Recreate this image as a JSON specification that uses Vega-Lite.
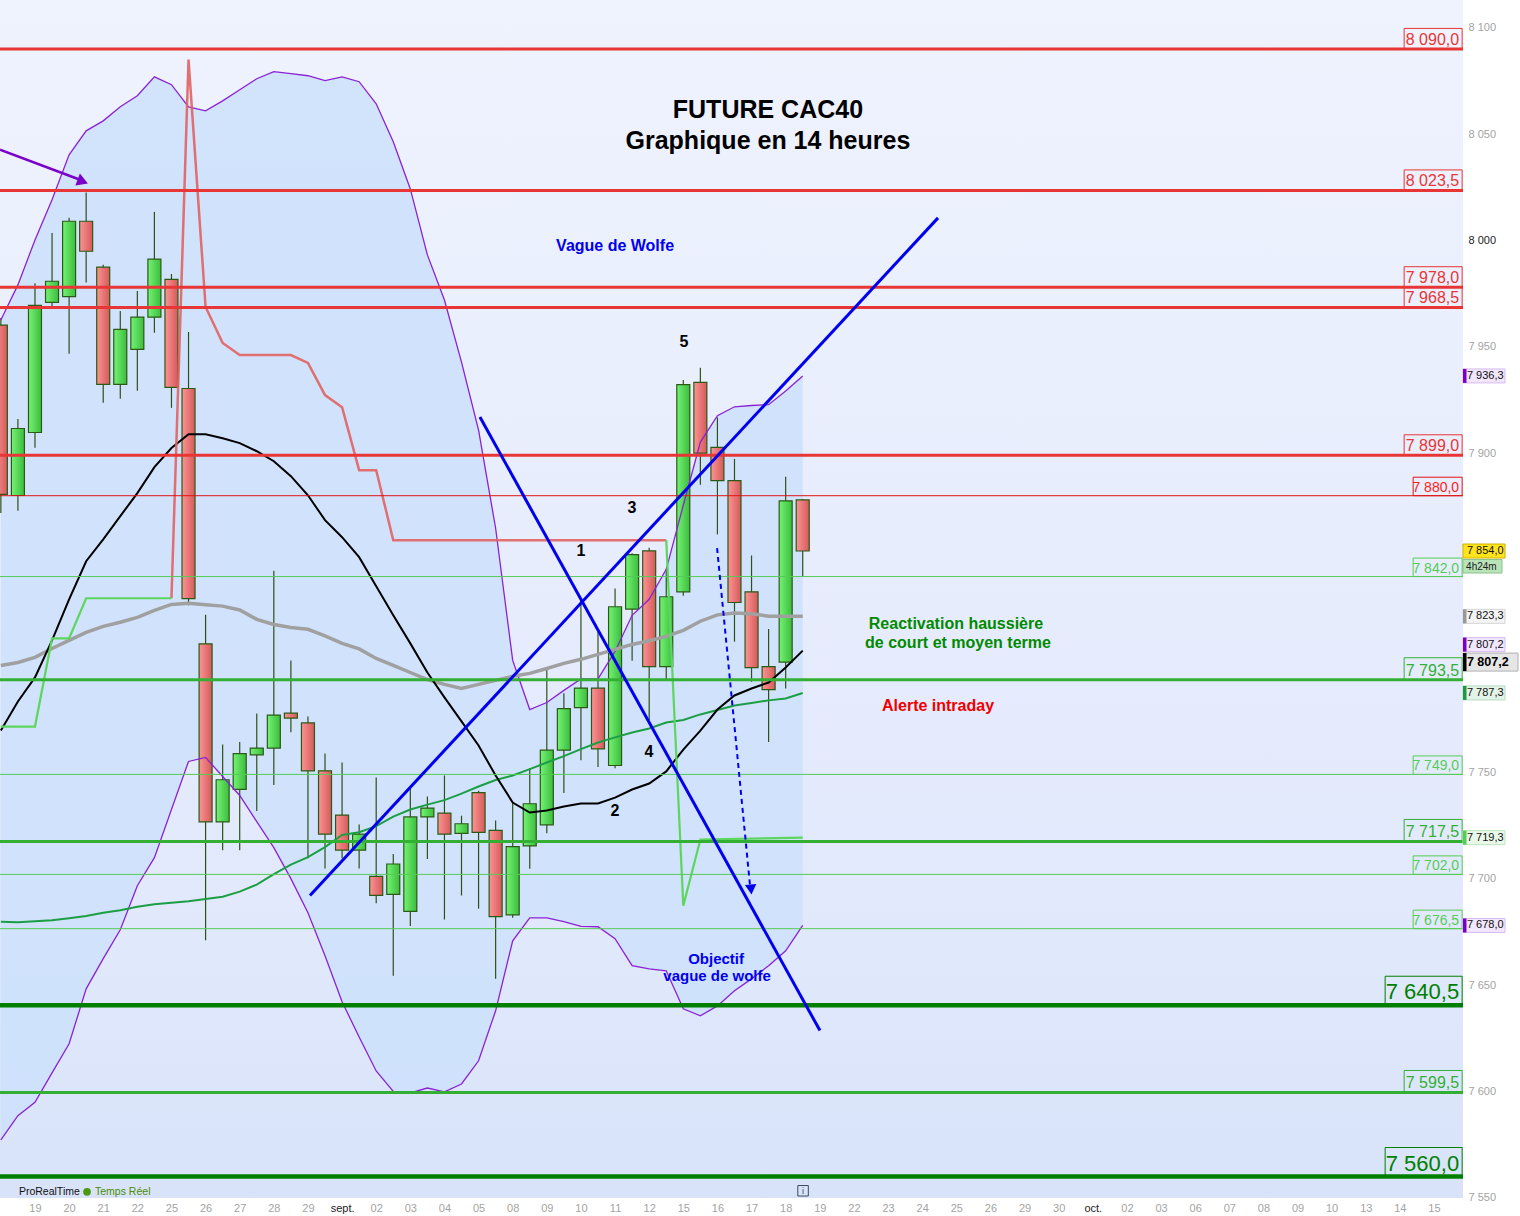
{
"$schema": "https://vega.github.io/schema/vega-lite/v6.json",
"width": 1463, "height": 1198,
"autosize": {"type": "none"},
"padding": {"left": 0, "top": 0, "right": 57, "bottom": 18},
"background": "#ffffff",
"resolve": {"axis": {"x": "independent", "y": "independent"}},
"config": {"view": {"stroke": null, "fill": {"gradient": "linear", "x1": 0, "y1": 0, "x2": 0, "y2": 1, "stops": [{"offset": 0, "color": "#eff3fe"}, {"offset": 0.75, "color": "#e2e9fc"}, {"offset": 1, "color": "#d8e3f9"}]}}, "font": "Liberation Sans", "text": {"font": "Liberation Sans"}, "scale": {"continuousPadding": 0}},
"datasets": {
"candles": [
{"i":-2,"o":7960.2,"h":7963.5,"l":7871.9,"c":7880.6},
{"i":-1,"o":7880.1,"h":7916.0,"l":7872.9,"c":7911.6},
{"i":0,"o":7909.7,"h":7979.9,"l":7902.5,"c":7969.5},
{"i":1,"o":7970.9,"h":8003.5,"l":7968.4,"c":7980.8},
{"i":2,"o":7973.6,"h":8010.6,"l":7946.7,"c":8009.0},
{"i":3,"o":8009.0,"h":8022.5,"l":7980.2,"c":7994.9},
{"i":4,"o":7987.4,"h":7988.5,"l":7923.7,"c":7932.3},
{"i":5,"o":7932.3,"h":7966.8,"l":7925.6,"c":7958.2},
{"i":6,"o":7948.8,"h":7976.2,"l":7929.3,"c":7963.9},
{"i":7,"o":7963.9,"h":8013.4,"l":7956.6,"c":7991.2},
{"i":8,"o":7981.7,"h":7984.2,"l":7921.3,"c":7930.9},
{"i":9,"o":7930.4,"h":7956.9,"l":7828.5,"c":7831.6},
{"i":10,"o":7810.4,"h":7824.1,"l":7671.1,"c":7726.7},
{"i":11,"o":7726.7,"h":7763.1,"l":7713.4,"c":7746.5},
{"i":12,"o":7742.0,"h":7764.2,"l":7713.4,"c":7758.8},
{"i":13,"o":7758.2,"h":7777.6,"l":7731.8,"c":7761.4},
{"i":14,"o":7761.4,"h":7844.7,"l":7744.0,"c":7776.9},
{"i":15,"o":7777.8,"h":7802.6,"l":7768.8,"c":7775.5},
{"i":16,"o":7773.2,"h":7776.2,"l":7709.6,"c":7750.7},
{"i":17,"o":7750.7,"h":7758.8,"l":7704.8,"c":7720.9},
{"i":18,"o":7729.9,"h":7754.6,"l":7709.6,"c":7713.4},
{"i":19,"o":7713.4,"h":7725.5,"l":7704.8,"c":7720.9},
{"i":20,"o":7701.1,"h":7747.6,"l":7688.5,"c":7692.1},
{"i":21,"o":7692.6,"h":7711.6,"l":7654.4,"c":7706.9},
{"i":22,"o":7684.6,"h":7743.4,"l":7677.7,"c":7729.0},
{"i":23,"o":7729.0,"h":7738.6,"l":7709.2,"c":7733.2},
{"i":24,"o":7730.8,"h":7748.5,"l":7680.8,"c":7720.9},
{"i":25,"o":7721.3,"h":7729.6,"l":7692.1,"c":7725.8},
{"i":26,"o":7740.4,"h":7741.3,"l":7685.9,"c":7721.8},
{"i":27,"o":7722.7,"h":7727.3,"l":7652.9,"c":7682.2},
{"i":28,"o":7683.0,"h":7735.8,"l":7681.6,"c":7715.1},
{"i":29,"o":7715.4,"h":7751.9,"l":7704.6,"c":7735.2},
{"i":30,"o":7725.3,"h":7798.3,"l":7721.4,"c":7760.4},
{"i":31,"o":7760.4,"h":7787.1,"l":7740.3,"c":7779.9},
{"i":32,"o":7780.4,"h":7830.7,"l":7755.6,"c":7789.6},
{"i":33,"o":7789.6,"h":7815.9,"l":7752.5,"c":7761.0},
{"i":34,"o":7753.2,"h":7836.4,"l":7751.9,"c":7827.8},
{"i":35,"o":7826.7,"h":7853.0,"l":7802.4,"c":7852.3},
{"i":36,"o":7854.1,"h":7855.5,"l":7774.5,"c":7799.7},
{"i":37,"o":7799.7,"h":7845.6,"l":7793.9,"c":7832.5},
{"i":38,"o":7834.8,"h":7934.4,"l":7833.0,"c":7932.2},
{"i":39,"o":7933.3,"h":7940.1,"l":7885.2,"c":7900.0},
{"i":40,"o":7902.7,"h":7916.8,"l":7861.8,"c":7887.1},
{"i":41,"o":7887.1,"h":7897.3,"l":7811.4,"c":7829.8},
{"i":42,"o":7834.8,"h":7851.9,"l":7792.5,"c":7799.2},
{"i":43,"o":7799.7,"h":7817.3,"l":7764.2,"c":7788.9},
{"i":44,"o":7801.8,"h":7888.9,"l":7789.4,"c":7877.6},
{"i":45,"o":7878.0,"h":7878.5,"l":7842.0,"c":7854.0}
],
"ind": [
{"i":-2,"ma20":7769.6,"ma50":7800.2,"ma100":7679.8,"up":7962.6,"lo":7577.2},
{"i":-1,"ma20":7783.3,"ma50":7801.6,"ma100":7679.5,"up":7979.1,"lo":7588.6},
{"i":0,"ma20":7794.6,"ma50":7804.0,"ma100":7680.0,"up":8000.2,"lo":7594.9},
{"i":1,"ma20":7812.0,"ma50":7808.2,"ma100":7680.5,"up":8019.1,"lo":7608.7},
{"i":2,"ma20":7831.3,"ma50":7812.0,"ma100":7681.4,"up":8040.2,"lo":7622.4},
{"i":3,"ma20":7849.2,"ma50":7815.8,"ma100":7682.4,"up":8051.5,"lo":7648.2},
{"i":4,"ma20":7859.5,"ma50":7818.6,"ma100":7684.0,"up":8056.2,"lo":7662.4},
{"i":5,"ma20":7870.4,"ma50":7820.5,"ma100":7685.2,"up":8062.8,"lo":7676.0},
{"i":6,"ma20":7881.2,"ma50":7822.8,"ma100":7686.8,"up":8068.0,"lo":7696.7},
{"i":7,"ma20":7893.4,"ma50":7826.1,"ma100":7688.0,"up":8076.9,"lo":7709.9},
{"i":8,"ma20":7902.4,"ma50":7828.9,"ma100":7688.7,"up":8073.2,"lo":7732.5},
{"i":9,"ma20":7908.9,"ma50":7829.4,"ma100":7689.4,"up":8062.8,"lo":7755.1},
{"i":10,"ma20":7908.9,"ma50":7828.7,"ma100":7690.4,"up":8060.9,"lo":7757.0},
{"i":11,"ma20":7907.0,"ma50":7828.1,"ma100":7691.5,"up":8065.6,"lo":7748.0},
{"i":12,"ma20":7904.7,"ma50":7826.3,"ma100":7693.9,"up":8070.8,"lo":7739.1},
{"i":13,"ma20":7900.9,"ma50":7821.9,"ma100":7697.2,"up":8076.0,"lo":7726.8},
{"i":14,"ma20":7896.2,"ma50":7819.5,"ma100":7702.1,"up":8079.3,"lo":7714.6},
{"i":15,"ma20":7889.2,"ma50":7818.1,"ma100":7706.6,"up":8078.4,"lo":7700.0},
{"i":16,"ma20":7880.2,"ma50":7817.2,"ma100":7710.1,"up":8077.4,"lo":7684.0},
{"i":17,"ma20":7868.5,"ma50":7814.1,"ma100":7714.8,"up":8075.1,"lo":7663.8},
{"i":18,"ma20":7860.5,"ma50":7810.6,"ma100":7720.5,"up":8076.9,"lo":7642.1},
{"i":19,"ma20":7851.1,"ma50":7808.0,"ma100":7721.8,"up":8074.6,"lo":7625.6},
{"i":20,"ma20":7837.4,"ma50":7803.5,"ma100":7724.7,"up":8064.2,"lo":7609.6},
{"i":21,"ma20":7823.8,"ma50":7800.2,"ma100":7729.2,"up":8046.4,"lo":7600.0},
{"i":22,"ma20":7810.6,"ma50":7796.9,"ma100":7732.5,"up":8024.2,"lo":7599.3},
{"i":23,"ma20":7796.9,"ma50":7793.6,"ma100":7734.8,"up":7993.2,"lo":7601.6},
{"i":24,"ma20":7785.2,"ma50":7791.3,"ma100":7736.9,"up":7972.0,"lo":7599.8},
{"i":25,"ma20":7773.9,"ma50":7789.4,"ma100":7740.0,"up":7942.8,"lo":7603.5},
{"i":26,"ma20":7762.6,"ma50":7791.3,"ma100":7743.3,"up":7910.8,"lo":7614.4},
{"i":27,"ma20":7748.5,"ma50":7793.2,"ma100":7746.4,"up":7864.7,"lo":7637.9},
{"i":28,"ma20":7735.8,"ma50":7795.1,"ma100":7748.5,"up":7802.6,"lo":7670.8},
{"i":29,"ma20":7731.1,"ma50":7796.5,"ma100":7751.5,"up":7779.5,"lo":7681.6},
{"i":30,"ma20":7732.0,"ma50":7798.8,"ma100":7754.6,"up":7782.8,"lo":7681.6},
{"i":31,"ma20":7733.9,"ma50":7801.2,"ma100":7757.6,"up":7788.5,"lo":7679.8},
{"i":32,"ma20":7735.3,"ma50":7803.1,"ma100":7760.9,"up":7793.9,"lo":7677.6},
{"i":33,"ma20":7735.3,"ma50":7805.4,"ma100":7764.0,"up":7793.9,"lo":7677.4},
{"i":34,"ma20":7738.1,"ma50":7807.8,"ma100":7766.4,"up":7806.8,"lo":7671.8},
{"i":35,"ma20":7741.9,"ma50":7810.1,"ma100":7768.7,"up":7823.8,"lo":7659.1},
{"i":36,"ma20":7744.7,"ma50":7811.8,"ma100":7770.6,"up":7831.3,"lo":7657.6},
{"i":37,"ma20":7750.4,"ma50":7813.9,"ma100":7773.4,"up":7845.4,"lo":7656.7},
{"i":38,"ma20":7760.7,"ma50":7816.7,"ma100":7774.6,"up":7875.5,"lo":7638.8},
{"i":39,"ma20":7769.6,"ma50":7821.0,"ma100":7777.2,"up":7905.2,"lo":7635.5},
{"i":40,"ma20":7779.5,"ma50":7824.0,"ma100":7779.3,"up":7917.6,"lo":7640.2},
{"i":41,"ma20":7786.1,"ma50":7824.9,"ma100":7781.4,"up":7921.8,"lo":7647.3},
{"i":42,"ma20":7789.4,"ma50":7824.5,"ma100":7782.6,"up":7922.4,"lo":7652.9},
{"i":43,"ma20":7792.2,"ma50":7823.4,"ma100":7783.8,"up":7922.8,"lo":7659.1},
{"i":44,"ma20":7799.3,"ma50":7823.4,"ma100":7784.7,"up":7929.2,"lo":7666.1},
{"i":45,"ma20":7807.2,"ma50":7823.3,"ma100":7787.3,"up":7936.3,"lo":7678.0}
],
"stop": [
{"s":"g1","i":-2,"v":7771.5},{"s":"g1","i":0,"v":7771.5},{"s":"g1","i":1,"v":7812.9},{"s":"g1","i":2,"v":7812.9},{"s":"g1","i":3,"v":7831.8},{"s":"g1","i":8,"v":7831.8},
{"s":"r","i":8,"v":7831.8},{"s":"r","i":9,"v":8085.0},{"s":"r","i":10,"v":7968.7},{"s":"r","i":11,"v":7951.8},{"s":"r","i":12,"v":7946.1},{"s":"r","i":15,"v":7946.1},{"s":"r","i":16,"v":7942.4},{"s":"r","i":17,"v":7927.3},{"s":"r","i":18,"v":7921.6},{"s":"r","i":19,"v":7892.0},{"s":"r","i":20,"v":7892.0},{"s":"r","i":21,"v":7859.1},{"s":"r","i":37,"v":7859.1},
{"s":"g2","i":37,"v":7859.1},{"s":"g2","i":38,"v":7687.3},{"s":"g2","i":39,"v":7718.4},{"s":"g2","i":45,"v":7719.3}
],
"levels": [
{"k":"R","p":8090.0,"t":"8 090,0"},{"k":"R","p":8023.5,"t":"8 023,5"},{"k":"R","p":7978.0,"t":"7 978,0"},{"k":"R","p":7968.5,"t":"7 968,5"},{"k":"R","p":7899.0,"t":"7 899,0"},
{"k":"r","p":7880.0,"t":"7 880,0"},
{"k":"g","p":7842.0,"t":"7 842,0"},{"k":"g","p":7749.0,"t":"7 749,0"},{"k":"g","p":7702.0,"t":"7 702,0"},{"k":"g","p":7676.5,"t":"7 676,5"},
{"k":"G","p":7793.5,"t":"7 793,5"},{"k":"G","p":7717.5,"t":"7 717,5"},{"k":"G","p":7599.5,"t":"7 599,5"},
{"k":"D","p":7640.5,"t":"7 640,5"},{"k":"D","p":7560.0,"t":"7 560,0"}
],
"wolfe": [
{"w":"A","i":16.12,"v":7692.1},{"w":"A","i":52.93,"v":8010.6},
{"w":"B","i":26.08,"v":7917.0},{"w":"B","i":46.01,"v":7628.6}
],
"arrows": [
{"a":"target","i":39.98,"v":7855.4},{"a":"target","i":41.91,"v":7696.8},
{"a":"top","i":-2.05,"v":8042.6},{"a":"top","i":2.64,"v":8028.5}
],
"heads": [
{"a":"target","i":41.97,"v":7694.9},
{"a":"top","i":2.7,"v":8028.0}
],
"notes": [
{"k":"title","i":42.96,"v":8061.4,"t":"FUTURE CAC40"},
{"k":"title","i":42.96,"v":8046.9,"t":"Graphique en 14 heures"},
{"k":"blue","i":34.0,"v":7997.5,"t":"Vague de Wolfe"},
{"k":"num","i":38.04,"v":7952.3,"t":"5"},
{"k":"num","i":34.99,"v":7874.2,"t":"3"},
{"k":"num","i":32.0,"v":7853.9,"t":"1"},
{"k":"num","i":35.99,"v":7759.4,"t":"4"},
{"k":"num","i":34.0,"v":7731.6,"t":"2"},
{"k":"green","i":53.98,"v":7819.6,"t":"Reactivation haussière"},
{"k":"green","i":54.1,"v":7810.7,"t":"de court et moyen terme"},
{"k":"red","i":52.93,"v":7781.0,"t":"Alerte intraday"},
{"k":"blue2","i":39.92,"v":7662.4,"t":"Objectif"},
{"k":"blue2","i":39.98,"v":7654.4,"t":"vague de wolfe"}
],
"tags": [
{"k":"purple","v":7936.3,"t":"7 936,3"},
{"k":"yellow","v":7854.0,"t":"7 854,0"},
{"k":"gray","v":7823.3,"t":"7 823,3"},
{"k":"green","v":7787.3,"t":"7 787,3"},
{"k":"lgreen","v":7719.3,"t":"7 719,3"},
{"k":"purple","v":7678.0,"t":"7 678,0"},
{"k":"purple2","v":7807.2,"t":"7 807,2"},
{"k":"black","v":7807.2,"t":"7 807,2"},
{"k":"time","v":7854.0,"t":"4h24m"}
],
"footer": [
{"k":"brand","i":-0.94,"v":7552.8,"t":"ProRealTime"},
{"k":"rt","i":3.52,"v":7552.8,"t":"Temps Réel"},
{"k":"info","i":45.02,"v":7553.3,"t":"i"}
]
},
"layer": [
{"data": {"name": "ind"},
 "mark": {"type": "area", "color": "#cde1fb", "opacity": 0.85},
 "encoding": {
  "x": {"field": "i", "type": "quantitative", "scale": {"domain": [-2.05, 83.7], "nice": false, "zero": false, "padding": 0},
   "axis": {"values": [0,2,4,6,8,10,12,14,16,18,20,22,24,26,28,30,32,34,36,38,40,42,44,46,48,50,52,54,56,58,60,62,64,66,68,70,72,74,76,78,80,82],
    "labelExpr": "['19','20','21','22','25','26','27','28','29','sept.','02','03','04','05','08','09','10','11','12','15','16','17','18','19','22','23','24','25','26','29','30','oct.','02','03','06','07','08','09','10','13','14','15'][datum.value/2]",
    "title": null, "domain": false, "ticks": false, "grid": false, "labelFont": "Liberation Sans", "labelFontSize": 11,
    "labelColor": {"condition": {"test": "datum.value==18 || datum.value==62", "value": "#222222"}, "value": "#a3a3a3"},
    "labelPadding": 4, "labelFlush": false, "labelOverlap": false}},
  "y": {"field": "lo", "type": "quantitative", "scale": {"domain": [7549.9, 8113.0], "nice": false, "zero": false, "padding": 0},
   "axis": {"orient": "right", "values": [7550,7600,7650,7700,7750,7900,7950,8000,8050,8100],
    "labelExpr": "replace(format(datum.value, ',d'), ',', ' ')",
    "title": null, "domain": false, "ticks": false, "grid": false, "labelFont": "Liberation Sans", "labelFontSize": 11,
    "labelColor": {"condition": {"test": "datum.value==8000", "value": "#222222"}, "value": "#a3a3a3"},
    "labelPadding": 5, "labelFlush": false, "labelOverlap": false}},
  "y2": {"field": "up"}
 }},
{"data": {"name": "candles"},
 "mark": {"type": "rule", "color": "#2d5016", "strokeWidth": 1.2},
 "encoding": {
  "x": {"field": "i", "type": "quantitative", "scale": {"domain": [-2.05, 83.7], "nice": false, "zero": false, "padding": 0}, "axis": null},
  "y": {"field": "l", "type": "quantitative", "scale": {"domain": [7549.9, 8113.0], "nice": false, "zero": false, "padding": 0}, "axis": null},
  "y2": {"field": "h"}
 }},
{"data": {"name": "candles"},
 "transform": [{"filter": "datum.c >= datum.o"}],
 "mark": {"type": "bar", "width": 13, "stroke": "#2b5a14", "strokeWidth": 1.2,
  "fill": {"gradient": "linear", "x1": 0, "y1": 0, "x2": 1, "y2": 0, "stops": [{"offset": 0, "color": "#74f274"}, {"offset": 1, "color": "#3cbd3c"}]}},
 "encoding": {
  "x": {"field": "i", "type": "quantitative", "scale": {"domain": [-2.05, 83.7], "nice": false, "zero": false, "padding": 0}, "axis": null},
  "y": {"field": "o", "type": "quantitative", "scale": {"domain": [7549.9, 8113.0], "nice": false, "zero": false, "padding": 0}, "axis": null},
  "y2": {"field": "c"}
 }},
{"data": {"name": "candles"},
 "transform": [{"filter": "datum.c < datum.o"}],
 "mark": {"type": "bar", "width": 13, "stroke": "#2b5a14", "strokeWidth": 1.2,
  "fill": {"gradient": "linear", "x1": 0, "y1": 0, "x2": 1, "y2": 0, "stops": [{"offset": 0, "color": "#fb9494"}, {"offset": 1, "color": "#d65a5a"}]}},
 "encoding": {
  "x": {"field": "i", "type": "quantitative", "scale": {"domain": [-2.05, 83.7], "nice": false, "zero": false, "padding": 0}, "axis": null},
  "y": {"field": "o", "type": "quantitative", "scale": {"domain": [7549.9, 8113.0], "nice": false, "zero": false, "padding": 0}, "axis": null},
  "y2": {"field": "c"}
 }},
{"data": {"name": "ind"},
 "mark": {"type": "line", "color": "#8a22d4", "strokeWidth": 1.3},
 "encoding": {
  "x": {"field": "i", "type": "quantitative", "scale": {"domain": [-2.05, 83.7], "nice": false, "zero": false, "padding": 0}, "axis": null},
  "y": {"field": "up", "type": "quantitative", "scale": {"domain": [7549.9, 8113.0], "nice": false, "zero": false, "padding": 0}, "axis": null}
 }},
{"data": {"name": "ind"},
 "mark": {"type": "line", "color": "#8a22d4", "strokeWidth": 1.3},
 "encoding": {
  "x": {"field": "i", "type": "quantitative", "scale": {"domain": [-2.05, 83.7], "nice": false, "zero": false, "padding": 0}, "axis": null},
  "y": {"field": "lo", "type": "quantitative", "scale": {"domain": [7549.9, 8113.0], "nice": false, "zero": false, "padding": 0}, "axis": null}
 }},
{"data": {"name": "ind"},
 "mark": {"type": "line", "color": "#1c9e44", "strokeWidth": 2},
 "encoding": {
  "x": {"field": "i", "type": "quantitative", "scale": {"domain": [-2.05, 83.7], "nice": false, "zero": false, "padding": 0}, "axis": null},
  "y": {"field": "ma100", "type": "quantitative", "scale": {"domain": [7549.9, 8113.0], "nice": false, "zero": false, "padding": 0}, "axis": null}
 }},
{"data": {"name": "ind"},
 "mark": {"type": "line", "color": "#a0a0a0", "strokeWidth": 3.5},
 "encoding": {
  "x": {"field": "i", "type": "quantitative", "scale": {"domain": [-2.05, 83.7], "nice": false, "zero": false, "padding": 0}, "axis": null},
  "y": {"field": "ma50", "type": "quantitative", "scale": {"domain": [7549.9, 8113.0], "nice": false, "zero": false, "padding": 0}, "axis": null}
 }},
{"data": {"name": "ind"},
 "mark": {"type": "line", "color": "#000000", "strokeWidth": 2},
 "encoding": {
  "x": {"field": "i", "type": "quantitative", "scale": {"domain": [-2.05, 83.7], "nice": false, "zero": false, "padding": 0}, "axis": null},
  "y": {"field": "ma20", "type": "quantitative", "scale": {"domain": [7549.9, 8113.0], "nice": false, "zero": false, "padding": 0}, "axis": null}
 }},
{"data": {"name": "stop"},
 "transform": [{"filter": "datum.s == 'r'"}],
 "mark": {"type": "line", "color": "#e06262", "strokeWidth": 2.5, "opacity": 0.9},
 "encoding": {
  "x": {"field": "i", "type": "quantitative", "scale": {"domain": [-2.05, 83.7], "nice": false, "zero": false, "padding": 0}, "axis": null},
  "y": {"field": "v", "type": "quantitative", "scale": {"domain": [7549.9, 8113.0], "nice": false, "zero": false, "padding": 0}, "axis": null}
 }},
{"data": {"name": "stop"},
 "transform": [{"filter": "datum.s != 'r'"}],
 "mark": {"type": "line", "color": "#5cd65c", "strokeWidth": 2.2},
 "encoding": {
  "x": {"field": "i", "type": "quantitative", "scale": {"domain": [-2.05, 83.7], "nice": false, "zero": false, "padding": 0}, "axis": null},
  "y": {"field": "v", "type": "quantitative", "scale": {"domain": [7549.9, 8113.0], "nice": false, "zero": false, "padding": 0}, "axis": null},
  "detail": {"field": "s"}
 }},
{"data": {"name": "levels"}, "transform": [{"filter": "datum.k == 'g'"}],
 "mark": {"type": "rule", "color": "#55cc55", "strokeWidth": 1},
 "encoding": {"y": {"field": "p", "type": "quantitative", "scale": {"domain": [7549.9, 8113.0], "nice": false, "zero": false, "padding": 0}, "axis": null}}},
{"data": {"name": "levels"}, "transform": [{"filter": "datum.k == 'r'"}],
 "mark": {"type": "rule", "color": "#e01414", "strokeWidth": 1},
 "encoding": {"y": {"field": "p", "type": "quantitative", "scale": {"domain": [7549.9, 8113.0], "nice": false, "zero": false, "padding": 0}, "axis": null}}},
{"data": {"name": "levels"}, "transform": [{"filter": "datum.k == 'G'"}],
 "mark": {"type": "rule", "color": "#33b033", "strokeWidth": 3},
 "encoding": {"y": {"field": "p", "type": "quantitative", "scale": {"domain": [7549.9, 8113.0], "nice": false, "zero": false, "padding": 0}, "axis": null}}},
{"data": {"name": "levels"}, "transform": [{"filter": "datum.k == 'R'"}],
 "mark": {"type": "rule", "color": "#e83535", "strokeWidth": 3},
 "encoding": {"y": {"field": "p", "type": "quantitative", "scale": {"domain": [7549.9, 8113.0], "nice": false, "zero": false, "padding": 0}, "axis": null}}},
{"data": {"name": "levels"}, "transform": [{"filter": "datum.k == 'D'"}],
 "mark": {"type": "rule", "color": "#007f00", "strokeWidth": 4.5},
 "encoding": {"y": {"field": "p", "type": "quantitative", "scale": {"domain": [7549.9, 8113.0], "nice": false, "zero": false, "padding": 0}, "axis": null}}},
{"data": {"name": "levels"}, "transform": [{"filter": "datum.k == 'R'"}],
 "mark": {"type": "point", "shape": "M-5.8,0V-2.05H0V0Z", "size": 400, "filled": false, "color": "#e83535", "strokeWidth": 1, "opacity": 1},
 "encoding": {
  "x": {"datum": 83.65, "type": "quantitative", "scale": {"domain": [-2.05, 83.7], "nice": false, "zero": false, "padding": 0}, "axis": null},
  "y": {"field": "p", "type": "quantitative", "scale": {"domain": [7549.9, 8113.0], "nice": false, "zero": false, "padding": 0}, "axis": null}}},
{"data": {"name": "levels"}, "transform": [{"filter": "datum.k == 'R'"}],
 "mark": {"type": "text", "align": "right", "baseline": "alphabetic", "dx": -3, "dy": -4, "fontSize": 16, "color": "#e83535", "font": "Liberation Sans"},
 "encoding": {
  "x": {"datum": 83.65, "type": "quantitative", "scale": {"domain": [-2.05, 83.7], "nice": false, "zero": false, "padding": 0}, "axis": null},
  "y": {"field": "p", "type": "quantitative", "scale": {"domain": [7549.9, 8113.0], "nice": false, "zero": false, "padding": 0}, "axis": null},
  "text": {"field": "t"}}},
{"data": {"name": "levels"}, "transform": [{"filter": "datum.k == 'r'"}],
 "mark": {"type": "point", "shape": "M-4.9,0V-1.85H0V0Z", "size": 400, "filled": false, "color": "#e01414", "strokeWidth": 1, "opacity": 1},
 "encoding": {
  "x": {"datum": 83.65, "type": "quantitative", "scale": {"domain": [-2.05, 83.7], "nice": false, "zero": false, "padding": 0}, "axis": null},
  "y": {"field": "p", "type": "quantitative", "scale": {"domain": [7549.9, 8113.0], "nice": false, "zero": false, "padding": 0}, "axis": null}}},
{"data": {"name": "levels"}, "transform": [{"filter": "datum.k == 'r'"}],
 "mark": {"type": "text", "align": "right", "baseline": "alphabetic", "dx": -3, "dy": -4, "fontSize": 14, "color": "#ff1a1a", "font": "Liberation Sans"},
 "encoding": {
  "x": {"datum": 83.65, "type": "quantitative", "scale": {"domain": [-2.05, 83.7], "nice": false, "zero": false, "padding": 0}, "axis": null},
  "y": {"field": "p", "type": "quantitative", "scale": {"domain": [7549.9, 8113.0], "nice": false, "zero": false, "padding": 0}, "axis": null},
  "text": {"field": "t"}}},
{"data": {"name": "levels"}, "transform": [{"filter": "datum.k == 'g'"}],
 "mark": {"type": "point", "shape": "M-4.9,0V-1.85H0V0Z", "size": 400, "filled": false, "color": "#55cc55", "strokeWidth": 1, "opacity": 1},
 "encoding": {
  "x": {"datum": 83.65, "type": "quantitative", "scale": {"domain": [-2.05, 83.7], "nice": false, "zero": false, "padding": 0}, "axis": null},
  "y": {"field": "p", "type": "quantitative", "scale": {"domain": [7549.9, 8113.0], "nice": false, "zero": false, "padding": 0}, "axis": null}}},
{"data": {"name": "levels"}, "transform": [{"filter": "datum.k == 'g'"}],
 "mark": {"type": "text", "align": "right", "baseline": "alphabetic", "dx": -3, "dy": -4, "fontSize": 14, "color": "#55cc55", "font": "Liberation Sans"},
 "encoding": {
  "x": {"datum": 83.65, "type": "quantitative", "scale": {"domain": [-2.05, 83.7], "nice": false, "zero": false, "padding": 0}, "axis": null},
  "y": {"field": "p", "type": "quantitative", "scale": {"domain": [7549.9, 8113.0], "nice": false, "zero": false, "padding": 0}, "axis": null},
  "text": {"field": "t"}}},
{"data": {"name": "levels"}, "transform": [{"filter": "datum.k == 'G'"}],
 "mark": {"type": "point", "shape": "M-5.8,0V-2.2H0V0Z", "size": 400, "filled": false, "color": "#33b033", "strokeWidth": 1, "opacity": 1},
 "encoding": {
  "x": {"datum": 83.65, "type": "quantitative", "scale": {"domain": [-2.05, 83.7], "nice": false, "zero": false, "padding": 0}, "axis": null},
  "y": {"field": "p", "type": "quantitative", "scale": {"domain": [7549.9, 8113.0], "nice": false, "zero": false, "padding": 0}, "axis": null}}},
{"data": {"name": "levels"}, "transform": [{"filter": "datum.k == 'G'"}],
 "mark": {"type": "text", "align": "right", "baseline": "alphabetic", "dx": -3, "dy": -4, "fontSize": 16, "color": "#33b033", "font": "Liberation Sans"},
 "encoding": {
  "x": {"datum": 83.65, "type": "quantitative", "scale": {"domain": [-2.05, 83.7], "nice": false, "zero": false, "padding": 0}, "axis": null},
  "y": {"field": "p", "type": "quantitative", "scale": {"domain": [7549.9, 8113.0], "nice": false, "zero": false, "padding": 0}, "axis": null},
  "text": {"field": "t"}}},
{"data": {"name": "levels"}, "transform": [{"filter": "datum.k == 'D'"}],
 "mark": {"type": "point", "shape": "M-7.7,0V-2.9H0V0Z", "size": 400, "filled": false, "color": "#007f00", "strokeWidth": 1, "opacity": 1},
 "encoding": {
  "x": {"datum": 83.65, "type": "quantitative", "scale": {"domain": [-2.05, 83.7], "nice": false, "zero": false, "padding": 0}, "axis": null},
  "y": {"field": "p", "type": "quantitative", "scale": {"domain": [7549.9, 8113.0], "nice": false, "zero": false, "padding": 0}, "axis": null}}},
{"data": {"name": "levels"}, "transform": [{"filter": "datum.k == 'D'"}],
 "mark": {"type": "text", "align": "right", "baseline": "alphabetic", "dx": -3, "dy": -6, "fontSize": 22, "color": "#007f00", "font": "Liberation Sans"},
 "encoding": {
  "x": {"datum": 83.65, "type": "quantitative", "scale": {"domain": [-2.05, 83.7], "nice": false, "zero": false, "padding": 0}, "axis": null},
  "y": {"field": "p", "type": "quantitative", "scale": {"domain": [7549.9, 8113.0], "nice": false, "zero": false, "padding": 0}, "axis": null},
  "text": {"field": "t"}}},
{"data": {"name": "wolfe"},
 "mark": {"type": "line", "color": "#0000ee", "strokeWidth": 3},
 "encoding": {
  "x": {"field": "i", "type": "quantitative", "scale": {"domain": [-2.05, 83.7], "nice": false, "zero": false, "padding": 0}, "axis": null},
  "y": {"field": "v", "type": "quantitative", "scale": {"domain": [7549.9, 8113.0], "nice": false, "zero": false, "padding": 0}, "axis": null},
  "detail": {"field": "w"}}},
{"data": {"name": "arrows"}, "transform": [{"filter": "datum.a == 'target'"}],
 "mark": {"type": "line", "color": "#0000ee", "strokeWidth": 2, "strokeDash": [5, 4]},
 "encoding": {
  "x": {"field": "i", "type": "quantitative", "scale": {"domain": [-2.05, 83.7], "nice": false, "zero": false, "padding": 0}, "axis": null},
  "y": {"field": "v", "type": "quantitative", "scale": {"domain": [7549.9, 8113.0], "nice": false, "zero": false, "padding": 0}, "axis": null}}},
{"data": {"name": "arrows"}, "transform": [{"filter": "datum.a == 'top'"}],
 "mark": {"type": "line", "color": "#7a00c8", "strokeWidth": 2.5},
 "encoding": {
  "x": {"field": "i", "type": "quantitative", "scale": {"domain": [-2.05, 83.7], "nice": false, "zero": false, "padding": 0}, "axis": null},
  "y": {"field": "v", "type": "quantitative", "scale": {"domain": [7549.9, 8113.0], "nice": false, "zero": false, "padding": 0}, "axis": null}}},
{"data": {"name": "heads"}, "transform": [{"filter": "datum.a == 'target'"}],
 "mark": {"type": "point", "shape": "triangle-down", "size": 130, "filled": true, "color": "#0000ee", "opacity": 1, "angle": 355},
 "encoding": {
  "x": {"field": "i", "type": "quantitative", "scale": {"domain": [-2.05, 83.7], "nice": false, "zero": false, "padding": 0}, "axis": null},
  "y": {"field": "v", "type": "quantitative", "scale": {"domain": [7549.9, 8113.0], "nice": false, "zero": false, "padding": 0}, "axis": null}}},
{"data": {"name": "heads"}, "transform": [{"filter": "datum.a == 'top'"}],
 "mark": {"type": "point", "shape": "triangle", "size": 160, "filled": true, "color": "#7a00c8", "opacity": 1, "angle": 111},
 "encoding": {
  "x": {"field": "i", "type": "quantitative", "scale": {"domain": [-2.05, 83.7], "nice": false, "zero": false, "padding": 0}, "axis": null},
  "y": {"field": "v", "type": "quantitative", "scale": {"domain": [7549.9, 8113.0], "nice": false, "zero": false, "padding": 0}, "axis": null}}},
{"data": {"name": "notes"}, "transform": [{"filter": "datum.k == 'title'"}],
 "mark": {"type": "text", "fontSize": 25, "fontWeight": "bold", "color": "#000000", "baseline": "middle", "font": "Liberation Sans"},
 "encoding": {
  "x": {"field": "i", "type": "quantitative", "scale": {"domain": [-2.05, 83.7], "nice": false, "zero": false, "padding": 0}, "axis": null},
  "y": {"field": "v", "type": "quantitative", "scale": {"domain": [7549.9, 8113.0], "nice": false, "zero": false, "padding": 0}, "axis": null},
  "text": {"field": "t"}}},
{"data": {"name": "notes"}, "transform": [{"filter": "datum.k == 'blue'"}],
 "mark": {"type": "text", "fontSize": 16, "fontWeight": "bold", "color": "#0000ee", "baseline": "middle", "font": "Liberation Sans"},
 "encoding": {
  "x": {"field": "i", "type": "quantitative", "scale": {"domain": [-2.05, 83.7], "nice": false, "zero": false, "padding": 0}, "axis": null},
  "y": {"field": "v", "type": "quantitative", "scale": {"domain": [7549.9, 8113.0], "nice": false, "zero": false, "padding": 0}, "axis": null},
  "text": {"field": "t"}}},
{"data": {"name": "notes"}, "transform": [{"filter": "datum.k == 'blue2'"}],
 "mark": {"type": "text", "fontSize": 15, "fontWeight": "bold", "color": "#0000ee", "baseline": "middle", "font": "Liberation Sans"},
 "encoding": {
  "x": {"field": "i", "type": "quantitative", "scale": {"domain": [-2.05, 83.7], "nice": false, "zero": false, "padding": 0}, "axis": null},
  "y": {"field": "v", "type": "quantitative", "scale": {"domain": [7549.9, 8113.0], "nice": false, "zero": false, "padding": 0}, "axis": null},
  "text": {"field": "t"}}},
{"data": {"name": "notes"}, "transform": [{"filter": "datum.k == 'num'"}],
 "mark": {"type": "text", "fontSize": 16, "fontWeight": "bold", "color": "#000000", "baseline": "middle", "font": "Liberation Sans"},
 "encoding": {
  "x": {"field": "i", "type": "quantitative", "scale": {"domain": [-2.05, 83.7], "nice": false, "zero": false, "padding": 0}, "axis": null},
  "y": {"field": "v", "type": "quantitative", "scale": {"domain": [7549.9, 8113.0], "nice": false, "zero": false, "padding": 0}, "axis": null},
  "text": {"field": "t"}}},
{"data": {"name": "notes"}, "transform": [{"filter": "datum.k == 'green'"}],
 "mark": {"type": "text", "fontSize": 16, "fontWeight": "bold", "color": "#008a00", "baseline": "middle", "font": "Liberation Sans"},
 "encoding": {
  "x": {"field": "i", "type": "quantitative", "scale": {"domain": [-2.05, 83.7], "nice": false, "zero": false, "padding": 0}, "axis": null},
  "y": {"field": "v", "type": "quantitative", "scale": {"domain": [7549.9, 8113.0], "nice": false, "zero": false, "padding": 0}, "axis": null},
  "text": {"field": "t"}}},
{"data": {"name": "notes"}, "transform": [{"filter": "datum.k == 'red'"}],
 "mark": {"type": "text", "fontSize": 16, "fontWeight": "bold", "color": "#ee0000", "baseline": "middle", "font": "Liberation Sans"},
 "encoding": {
  "x": {"field": "i", "type": "quantitative", "scale": {"domain": [-2.05, 83.7], "nice": false, "zero": false, "padding": 0}, "axis": null},
  "y": {"field": "v", "type": "quantitative", "scale": {"domain": [7549.9, 8113.0], "nice": false, "zero": false, "padding": 0}, "axis": null},
  "text": {"field": "t"}}},
{"data": {"name": "tags"}, "transform": [{"filter": "indexof(['purple','yellow','gray','green','lgreen'], datum.k) >= 0"}],
 "mark": {"type": "point", "shape": "M0,-0.7H4.2V0.7H0Z", "size": 400, "filled": true, "strokeWidth": 1, "opacity": 1},
 "encoding": {
  "x": {"datum": 83.7, "type": "quantitative", "scale": {"domain": [-2.05, 83.7], "nice": false, "zero": false, "padding": 0}, "axis": null},
  "y": {"field": "v", "type": "quantitative", "scale": {"domain": [7549.9, 8113.0], "nice": false, "zero": false, "padding": 0}, "axis": null},
  "fill": {"field": "k", "type": "nominal", "scale": {"domain": ["purple","yellow","gray","green","lgreen"], "range": ["#f1e6fb","#ffe41c","#f4f4f4","#e3f3e7","#e9f8e9"]}, "legend": null},
  "stroke": {"field": "k", "type": "nominal", "scale": {"domain": ["purple","yellow","gray","green","lgreen"], "range": ["#d6bcf2","#d0b000","#d4d4d4","#b5dcc0","#bde6bd"]}, "legend": null}}},
{"data": {"name": "tags"}, "transform": [{"filter": "indexof(['purple','gray','green','lgreen'], datum.k) >= 0"}],
 "mark": {"type": "point", "shape": "M0,-0.7H0.35V0.7H0Z", "size": 400, "filled": true, "strokeWidth": 0, "opacity": 1},
 "encoding": {
  "x": {"datum": 83.7, "type": "quantitative", "scale": {"domain": [-2.05, 83.7], "nice": false, "zero": false, "padding": 0}, "axis": null},
  "y": {"field": "v", "type": "quantitative", "scale": {"domain": [7549.9, 8113.0], "nice": false, "zero": false, "padding": 0}, "axis": null},
  "color": {"field": "k", "type": "nominal", "scale": {"domain": ["purple","gray","green","lgreen"], "range": ["#7a00c8","#999999","#1a9a40","#55cc55"]}, "legend": null}}},
{"data": {"name": "tags"}, "transform": [{"filter": "datum.k == 'purple2'"}],
 "mark": {"type": "point", "shape": "M0,-1.3H4.2V0.1H0Z", "size": 400, "filled": true, "fill": "#f1e6fb", "stroke": "#d6bcf2", "strokeWidth": 1, "opacity": 1},
 "encoding": {
  "x": {"datum": 83.7, "type": "quantitative", "scale": {"domain": [-2.05, 83.7], "nice": false, "zero": false, "padding": 0}, "axis": null},
  "y": {"field": "v", "type": "quantitative", "scale": {"domain": [7549.9, 8113.0], "nice": false, "zero": false, "padding": 0}, "axis": null}}},
{"data": {"name": "tags"}, "transform": [{"filter": "datum.k == 'purple2'"}],
 "mark": {"type": "point", "shape": "M0,-1.3H0.35V0.1H0Z", "size": 400, "filled": true, "fill": "#7a00c8", "strokeWidth": 0, "opacity": 1},
 "encoding": {
  "x": {"datum": 83.7, "type": "quantitative", "scale": {"domain": [-2.05, 83.7], "nice": false, "zero": false, "padding": 0}, "axis": null},
  "y": {"field": "v", "type": "quantitative", "scale": {"domain": [7549.9, 8113.0], "nice": false, "zero": false, "padding": 0}, "axis": null}}},
{"data": {"name": "tags"}, "transform": [{"filter": "datum.k == 'black'"}],
 "mark": {"type": "point", "shape": "M0,0.25H5.5V2.05H0Z", "size": 400, "filled": true, "fill": "#e6e6e6", "stroke": "#b0b0b0", "strokeWidth": 1, "opacity": 1},
 "encoding": {
  "x": {"datum": 83.7, "type": "quantitative", "scale": {"domain": [-2.05, 83.7], "nice": false, "zero": false, "padding": 0}, "axis": null},
  "y": {"field": "v", "type": "quantitative", "scale": {"domain": [7549.9, 8113.0], "nice": false, "zero": false, "padding": 0}, "axis": null}}},
{"data": {"name": "tags"}, "transform": [{"filter": "datum.k == 'black'"}],
 "mark": {"type": "point", "shape": "M0,0.25H0.35V2.05H0Z", "size": 400, "filled": true, "fill": "#000000", "strokeWidth": 0, "opacity": 1},
 "encoding": {
  "x": {"datum": 83.7, "type": "quantitative", "scale": {"domain": [-2.05, 83.7], "nice": false, "zero": false, "padding": 0}, "axis": null},
  "y": {"field": "v", "type": "quantitative", "scale": {"domain": [7549.9, 8113.0], "nice": false, "zero": false, "padding": 0}, "axis": null}}},
{"data": {"name": "tags"}, "transform": [{"filter": "datum.k == 'time'"}],
 "mark": {"type": "point", "shape": "M0,0.85H3.9V2.2H0Z", "size": 400, "filled": true, "fill": "#b9e3b9", "stroke": "#8cc48c", "strokeWidth": 1, "opacity": 1},
 "encoding": {
  "x": {"datum": 83.7, "type": "quantitative", "scale": {"domain": [-2.05, 83.7], "nice": false, "zero": false, "padding": 0}, "axis": null},
  "y": {"field": "v", "type": "quantitative", "scale": {"domain": [7549.9, 8113.0], "nice": false, "zero": false, "padding": 0}, "axis": null}}},
{"data": {"name": "tags"}, "transform": [{"filter": "indexof(['purple','yellow','gray','green','lgreen'], datum.k) >= 0"}],
 "mark": {"type": "text", "align": "left", "baseline": "middle", "fontSize": 11, "color": "#111111", "font": "Liberation Sans"},
 "encoding": {
  "x": {"datum": 83.93, "type": "quantitative", "scale": {"domain": [-2.05, 83.7], "nice": false, "zero": false, "padding": 0}, "axis": null},
  "y": {"field": "v", "type": "quantitative", "scale": {"domain": [7549.9, 8113.0], "nice": false, "zero": false, "padding": 0}, "axis": null},
  "text": {"field": "t"}}},
{"data": {"name": "tags"}, "transform": [{"filter": "datum.k == 'purple2'"}],
 "mark": {"type": "text", "align": "left", "baseline": "middle", "fontSize": 11, "color": "#111111", "dy": -6, "font": "Liberation Sans"},
 "encoding": {
  "x": {"datum": 83.93, "type": "quantitative", "scale": {"domain": [-2.05, 83.7], "nice": false, "zero": false, "padding": 0}, "axis": null},
  "y": {"field": "v", "type": "quantitative", "scale": {"domain": [7549.9, 8113.0], "nice": false, "zero": false, "padding": 0}, "axis": null},
  "text": {"field": "t"}}},
{"data": {"name": "tags"}, "transform": [{"filter": "datum.k == 'black'"}],
 "mark": {"type": "text", "align": "left", "baseline": "middle", "fontSize": 12.5, "fontWeight": "bold", "color": "#000000", "dy": 11.5, "font": "Liberation Sans"},
 "encoding": {
  "x": {"datum": 83.93, "type": "quantitative", "scale": {"domain": [-2.05, 83.7], "nice": false, "zero": false, "padding": 0}, "axis": null},
  "y": {"field": "v", "type": "quantitative", "scale": {"domain": [7549.9, 8113.0], "nice": false, "zero": false, "padding": 0}, "axis": null},
  "text": {"field": "t"}}},
{"data": {"name": "tags"}, "transform": [{"filter": "datum.k == 'time'"}],
 "mark": {"type": "text", "align": "left", "baseline": "middle", "fontSize": 10, "color": "#222222", "dy": 15.5, "font": "Liberation Sans"},
 "encoding": {
  "x": {"datum": 83.88, "type": "quantitative", "scale": {"domain": [-2.05, 83.7], "nice": false, "zero": false, "padding": 0}, "axis": null},
  "y": {"field": "v", "type": "quantitative", "scale": {"domain": [7549.9, 8113.0], "nice": false, "zero": false, "padding": 0}, "axis": null},
  "text": {"field": "t"}}},
{"data": {"name": "footer"}, "transform": [{"filter": "datum.k == 'brand'"}],
 "mark": {"type": "text", "align": "left", "baseline": "middle", "fontSize": 10.5, "color": "#111111", "font": "Liberation Sans"},
 "encoding": {
  "x": {"field": "i", "type": "quantitative", "scale": {"domain": [-2.05, 83.7], "nice": false, "zero": false, "padding": 0}, "axis": null},
  "y": {"field": "v", "type": "quantitative", "scale": {"domain": [7549.9, 8113.0], "nice": false, "zero": false, "padding": 0}, "axis": null},
  "text": {"field": "t"}}},
{"data": {"name": "footer"}, "transform": [{"filter": "datum.k == 'rt'"}],
 "mark": {"type": "text", "align": "left", "baseline": "middle", "fontSize": 10.5, "color": "#4a8c00", "font": "Liberation Sans"},
 "encoding": {
  "x": {"field": "i", "type": "quantitative", "scale": {"domain": [-2.05, 83.7], "nice": false, "zero": false, "padding": 0}, "axis": null},
  "y": {"field": "v", "type": "quantitative", "scale": {"domain": [7549.9, 8113.0], "nice": false, "zero": false, "padding": 0}, "axis": null},
  "text": {"field": "t"}}},
{"data": {"name": "footer"}, "transform": [{"filter": "datum.k == 'rt'"}],
 "mark": {"type": "point", "shape": "circle", "size": 60, "filled": true, "color": "#4a9a10", "opacity": 1, "xOffset": -8},
 "encoding": {
  "x": {"field": "i", "type": "quantitative", "scale": {"domain": [-2.05, 83.7], "nice": false, "zero": false, "padding": 0}, "axis": null},
  "y": {"field": "v", "type": "quantitative", "scale": {"domain": [7549.9, 8113.0], "nice": false, "zero": false, "padding": 0}, "axis": null}}},
{"data": {"name": "footer"}, "transform": [{"filter": "datum.k == 'info'"}],
 "mark": {"type": "point", "shape": "square", "size": 110, "filled": false, "color": "#3a4a60", "strokeWidth": 1, "opacity": 1},
 "encoding": {
  "x": {"field": "i", "type": "quantitative", "scale": {"domain": [-2.05, 83.7], "nice": false, "zero": false, "padding": 0}, "axis": null},
  "y": {"field": "v", "type": "quantitative", "scale": {"domain": [7549.9, 8113.0], "nice": false, "zero": false, "padding": 0}, "axis": null}}},
{"data": {"name": "footer"}, "transform": [{"filter": "datum.k == 'info'"}],
 "mark": {"type": "text", "align": "center", "baseline": "middle", "fontSize": 9, "color": "#3a4a60", "font": "Liberation Sans"},
 "encoding": {
  "x": {"field": "i", "type": "quantitative", "scale": {"domain": [-2.05, 83.7], "nice": false, "zero": false, "padding": 0}, "axis": null},
  "y": {"field": "v", "type": "quantitative", "scale": {"domain": [7549.9, 8113.0], "nice": false, "zero": false, "padding": 0}, "axis": null},
  "text": {"field": "t"}}}
]
}
